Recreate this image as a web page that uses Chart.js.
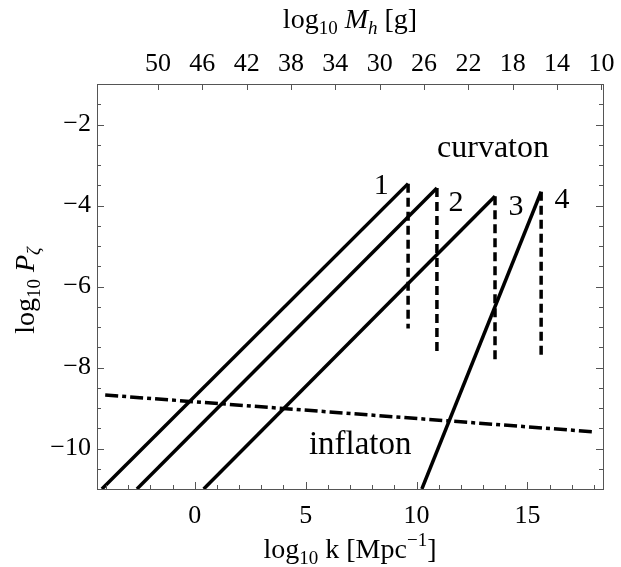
<!DOCTYPE html>
<html>
<head>
<meta charset="utf-8">
<script src="https://cdn.jsdelivr.net/npm/chart.js@4.4.1/dist/chart.umd.min.js"></script>
<style>
  html, body { margin: 0; padding: 0; background: #fff; }
  #wrap { width: 621px; height: 567px; position: relative; }
</style>
</head>
<body>
<div id="wrap"><canvas id="chart"></canvas></div>
<script>
// values (log10 k, log10 P_zeta)
const curveNames = ['1', '2', '3', '4'];
const rampStartK = [-4.19, -2.61, 0.40, 10.24];
const rampStartP = [-11, -11, -11, -11];
const peakK = [9.62, 10.92, 13.54, 15.62];
const peakP = [-3.46, -3.57, -3.77, -3.66];
const cutoffP = [-7.04, -7.63, -7.84, -7.76];
const inflatonK = [-4.04, 18.03];
const inflatonP = [-8.68, -9.59];

const kTicks = [0, 5, 10, 15];
const pTicks = [-10, -8, -6, -4, -2];
const massTicks = [50, 46, 42, 38, 34, 30, 26, 22, 18, 14, 10];

// log10 M_h = MASS_AT_K0 - 2 log10 k
const MASS_AT_K0 = 46.68;
const K_MIN = -4.41, K_MAX = 18.41;
const P_MIN = -11, P_MAX = -1;

const FONT = '"Liberation Serif", "Times New Roman", serif';
const FRAME = '#555';

// text placed in the plot, anchored in data coordinates
const annotations = [
  { text: 'curvaton', k: 13.45, p: -2.59, size: 32 },
  { text: 'inflaton', k: 7.46, p: -9.92, size: 33 },
  { text: curveNames[0], k: 8.41, p: -3.52, size: 30 },
  { text: curveNames[1], k: 11.78, p: -3.94, size: 30 },
  { text: curveNames[2], k: 14.49, p: -4.05, size: 30 },
  { text: curveNames[3], k: 16.56, p: -3.87, size: 30 }
];

const datasets = [];
for (let i = 0; i < curveNames.length; i++) {
  datasets.push({
    label: 'curvaton ' + curveNames[i],
    data: [{ x: rampStartK[i], y: rampStartP[i] }, { x: peakK[i], y: peakP[i] }],
    borderColor: '#000', borderWidth: 3.5
  });
  datasets.push({
    label: 'cutoff ' + curveNames[i],
    data: [{ x: peakK[i], y: peakP[i] }, { x: peakK[i], y: cutoffP[i] }],
    borderColor: '#000', borderWidth: 3.5, borderDash: [9, 5]
  });
}
datasets.push({
  label: 'inflaton',
  data: inflatonK.map((k, i) => ({ x: k, y: inflatonP[i] })),
  borderColor: '#000', borderWidth: 3.5, borderDash: [13, 4, 4, 4]
});

// draws text pieces with sub/superscripts, centred on (x, y) baseline
function drawRich(ctx, parts, x, y, rotate) {
  ctx.save();
  ctx.translate(x, y);
  if (rotate) ctx.rotate(-Math.PI / 2);
  ctx.textBaseline = 'alphabetic';
  ctx.textAlign = 'left';
  ctx.fillStyle = '#000';
  let total = 0;
  parts.forEach(p => {
    ctx.font = (p.italic ? 'italic ' : '') + p.size + 'px ' + FONT;
    p.w = ctx.measureText(p.t).width;
    total += p.w;
  });
  let cx = -total / 2;
  parts.forEach(p => {
    ctx.font = (p.italic ? 'italic ' : '') + p.size + 'px ' + FONT;
    ctx.fillText(p.t, cx, p.dy || 0);
    cx += p.w;
  });
  ctx.restore();
}

const frameAndTitles = {
  id: 'frameAndTitles',
  afterDraw(chart) {
    const { ctx, chartArea: a, scales } = chart;
    ctx.save();
    ctx.strokeStyle = FRAME;
    ctx.lineWidth = 1;
    const seg = (x1, y1, x2, y2) => {
      ctx.beginPath(); ctx.moveTo(x1, y1); ctx.lineTo(x2, y2); ctx.stroke();
    };
    for (let k = Math.ceil(K_MIN); k <= K_MAX; k++) {
      const x = Math.round(scales.x.getPixelForValue(k)) + 0.5;
      const len = kTicks.includes(k) ? 7 : 4;
      seg(x, a.bottom, x, a.bottom - len);
    }
    massTicks.forEach(m => {
      const x = Math.round(scales.xTop.getPixelForValue(m)) + 0.5;
      seg(x, a.top, x, a.top + 6);
    });
    for (let p = P_MIN + 0.5; p < P_MAX; p += 0.5) {
      const y = Math.round(scales.y.getPixelForValue(p)) + 0.5;
      const len = pTicks.includes(p) ? 7 : 4;
      seg(a.left, y, a.left + len, y);
      seg(a.right, y, a.right - len, y);
    }
    ctx.restore();

    ctx.save();
    ctx.fillStyle = '#000';
    ctx.textAlign = 'center';
    ctx.textBaseline = 'middle';
    annotations.forEach(n => {
      ctx.font = n.size + 'px ' + FONT;
      ctx.fillText(n.text, scales.x.getPixelForValue(n.k), scales.y.getPixelForValue(n.p));
    });
    ctx.restore();

    const cxPlot = (a.left + a.right) / 2;
    const cyPlot = (a.top + a.bottom) / 2;
    drawRich(ctx, [
      { t: 'log', size: 28 }, { t: '10', size: 19, dy: 6 }, { t: ' k [Mpc', size: 28 },
      { t: '\u22121', size: 19, dy: -12 }, { t: ']', size: 28 }
    ], cxPlot, 558);
    drawRich(ctx, [
      { t: 'log', size: 28 }, { t: '10', size: 19, dy: 6 }, { t: ' ', size: 28 },
      { t: 'M', size: 28, italic: true }, { t: 'h', size: 19, italic: true, dy: 6 },
      { t: ' [g]', size: 28 }
    ], cxPlot, 28);
    drawRich(ctx, [
      { t: 'log', size: 28 }, { t: '10', size: 19, dy: 6 }, { t: ' ', size: 28 },
      { t: 'P', size: 28, italic: true }, { t: '\u03b6', size: 19, italic: true, dy: 6 }
    ], 34, cyPlot + 4, true);
  }
};

const tickFont = { family: FONT, size: 26 };
const fixedTicks = values => scale => { scale.ticks = values.map(v => ({ value: v })); };

new Chart(document.getElementById('chart'), {
  type: 'scatter',
  data: { datasets },
  options: {
    responsive: true,
    maintainAspectRatio: false,
    animation: false,
    events: [],
    layout: { padding: 0 },
    elements: { point: { radius: 0 }, line: { tension: 0, fill: false } },
    datasets: { scatter: { showLine: true } },
    plugins: { legend: { display: false }, tooltip: { enabled: false } },
    scales: {
      x: {
        type: 'linear', position: 'bottom', min: K_MIN, max: K_MAX,
        afterBuildTicks: fixedTicks(kTicks),
        afterFit: s => { s.height = 78; },
        grid: { display: false, drawTicks: false },
        border: { display: true, color: FRAME, width: 1 },
        ticks: { font: tickFont, color: '#000', padding: 12, maxRotation: 0, autoSkip: false }
      },
      xTop: {
        type: 'linear', position: 'top', reverse: true,
        min: MASS_AT_K0 - 2 * K_MAX, max: MASS_AT_K0 - 2 * K_MIN,
        afterBuildTicks: fixedTicks(massTicks),
        afterFit: s => { s.height = 84; },
        grid: { display: false, drawTicks: false },
        border: { display: true, color: FRAME, width: 1 },
        ticks: { font: tickFont, color: '#000', padding: 4, maxRotation: 0, autoSkip: false }
      },
      y: {
        type: 'linear', position: 'left', min: P_MIN, max: P_MAX,
        afterBuildTicks: fixedTicks(pTicks),
        afterFit: s => { s.width = 97; },
        grid: { display: false, drawTicks: false },
        border: { display: true, color: FRAME, width: 1 },
        ticks: { font: tickFont, color: '#000', padding: 6, callback: v => String(v).replace('-', '\u2212') }
      },
      yRight: {
        type: 'linear', position: 'right', min: P_MIN, max: P_MAX, display: true,
        afterFit: s => { s.width = 18; },
        grid: { display: false, drawTicks: false },
        border: { display: true, color: FRAME, width: 1 },
        ticks: { display: false }
      }
    }
  },
  plugins: [frameAndTitles]
});
</script>
</body>
</html>
